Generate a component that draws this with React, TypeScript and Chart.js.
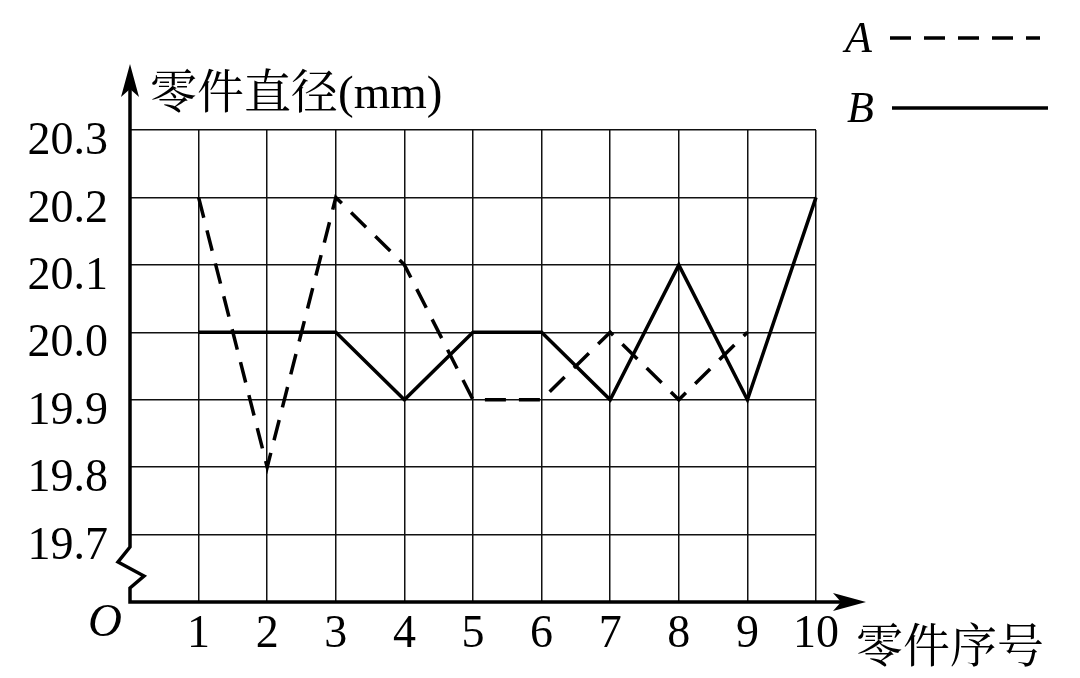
import React, { useEffect, useRef } from "react";
import { Chart, registerables } from "chart.js";

Chart.register(...registerables);

const partNumbers = [1, 2, 3, 4, 5, 6, 7, 8, 9, 10];
const seriesA = [20.2, 19.8, 20.2, 20.1, 19.9, 19.9, 20.0, 19.9, 20.0];
const seriesB = [20.0, 20.0, 20.0, 19.9, 20.0, 20.0, 19.9, 20.1, 19.9, 20.2];
const yMin = 19.6;
const yMax = 20.3;
const yStep = 0.1;
const xMin = 0;
const xMax = 10;
const yTitle = "零件直径(mm)";
const xTitle = "零件序号";
const legendLabels = ["A", "B"];

const SERIF = '"Liberation Serif", "Noto Serif CJK SC", "Noto Sans CJK SC", serif';

const decorPlugin = {
  id: "decor",
  afterDraw(chart: any) {
    const ctx = chart.ctx;
    const xs = chart.scales.x;
    const ys = chart.scales.y;
    const x0 = xs.getPixelForValue(xMin);
    const y0 = ys.getPixelForValue(yMin);
    ctx.save();
    ctx.strokeStyle = "#000";
    ctx.fillStyle = "#000";
    ctx.lineWidth = 3.5;
    ctx.lineJoin = "miter";
    ctx.lineCap = "butt";
    // y axis with break
    ctx.beginPath();
    ctx.moveTo(x0, 76);
    ctx.lineTo(x0, 547);
    ctx.lineTo(x0 - 12, 562);
    ctx.lineTo(x0 + 14, 576);
    ctx.lineTo(x0, 588);
    ctx.lineTo(x0, y0);
    ctx.lineTo(852, y0);
    ctx.stroke();
    // arrows
    ctx.beginPath();
    ctx.moveTo(x0, 64);
    ctx.lineTo(x0 - 9, 97);
    ctx.lineTo(x0, 89);
    ctx.lineTo(x0 + 9, 97);
    ctx.closePath();
    ctx.fill();
    ctx.beginPath();
    ctx.moveTo(866, y0);
    ctx.lineTo(833, y0 - 9);
    ctx.lineTo(841, y0);
    ctx.lineTo(833, y0 + 9);
    ctx.closePath();
    ctx.fill();
    // titles
    ctx.textBaseline = "alphabetic";
    ctx.textAlign = "left";
    ctx.font = `47px ${SERIF}`;
    ctx.fillText(yTitle, 150, 108);
    ctx.fillText(xTitle, 856, 662);
    ctx.font = `italic 47px ${SERIF}`;
    ctx.fillText("O", 88, 636);
    // legend
    ctx.font = `italic 44px ${SERIF}`;
    ctx.fillText(legendLabels[0], 845, 52);
    ctx.fillText(legendLabels[1], 847, 122);
    ctx.lineWidth = 3.5;
    ctx.setLineDash([21, 13]);
    ctx.beginPath();
    ctx.moveTo(890, 38);
    ctx.lineTo(1040, 38);
    ctx.stroke();
    ctx.setLineDash([]);
    ctx.beginPath();
    ctx.moveTo(892, 108);
    ctx.lineTo(1048, 108);
    ctx.stroke();
    ctx.restore();
  },
};

export default function App() {
  const ref = useRef<HTMLCanvasElement | null>(null);
  useEffect(() => {
    if (!ref.current) return;
    const chart = new Chart(ref.current, {
      type: "line",
      data: {
        datasets: [
          {
            label: legendLabels[0],
            data: seriesA.map((v, i) => ({ x: partNumbers[i], y: v })),
            borderColor: "#000",
            borderWidth: 3.5,
            borderDash: [21, 13],
            borderCapStyle: "butt",
            pointRadius: 0,
            fill: false,
            tension: 0,
            clip: false,
          },
          {
            label: legendLabels[1],
            data: seriesB.map((v, i) => ({ x: partNumbers[i], y: v })),
            borderColor: "#000",
            borderWidth: 3.5,
            pointRadius: 0,
            fill: false,
            tension: 0,
            clip: false,
          },
        ],
      },
      options: {
        animation: false,
        responsive: false,
        maintainAspectRatio: false,
        layout: { padding: { top: 130, right: 264, left: 0, bottom: 0 } },
        plugins: { legend: { display: false }, tooltip: { enabled: false } },
        scales: {
          x: {
            type: "linear",
            min: xMin,
            max: xMax,
            afterFit: (s: any) => {
              s.height = 76;
            },
            border: { display: false },
            grid: {
              color: (c: any) => (c.tick && c.tick.value === xMin ? "rgba(0,0,0,0)" : "#111"),
              lineWidth: 1.5,
              drawTicks: false,
            },
            ticks: {
              stepSize: 1,
              color: "#000",
              font: { family: SERIF, size: 46 },
              padding: 5,
              callback: (v: any) => (v === xMin ? "" : String(v)),
            },
          },
          y: {
            type: "linear",
            min: yMin,
            max: yMax,
            afterFit: (s: any) => {
              s.width = 130;
            },
            border: { display: false },
            grid: {
              color: (c: any) =>
                c.tick && Math.abs(c.tick.value - yMin) < 1e-6 ? "rgba(0,0,0,0)" : "#111",
              lineWidth: 1.5,
              drawTicks: false,
            },
            ticks: {
              stepSize: yStep,
              color: "#000",
              font: { family: SERIF, size: 46 },
              padding: 22,
              labelOffset: 12,
              callback: (v: any) => (Math.abs(v - yMin) < 1e-6 ? "" : Number(v).toFixed(1)),
            },
          },
        },
      },
      plugins: [decorPlugin],
    });
    return () => chart.destroy();
  }, []);
  return (
    <div style={{ position: "fixed", left: 0, top: 0, width: 1080, height: 678, background: "#fff" }}>
      <canvas ref={ref} width={1080} height={678} style={{ display: "block" }} />
    </div>
  );
}
